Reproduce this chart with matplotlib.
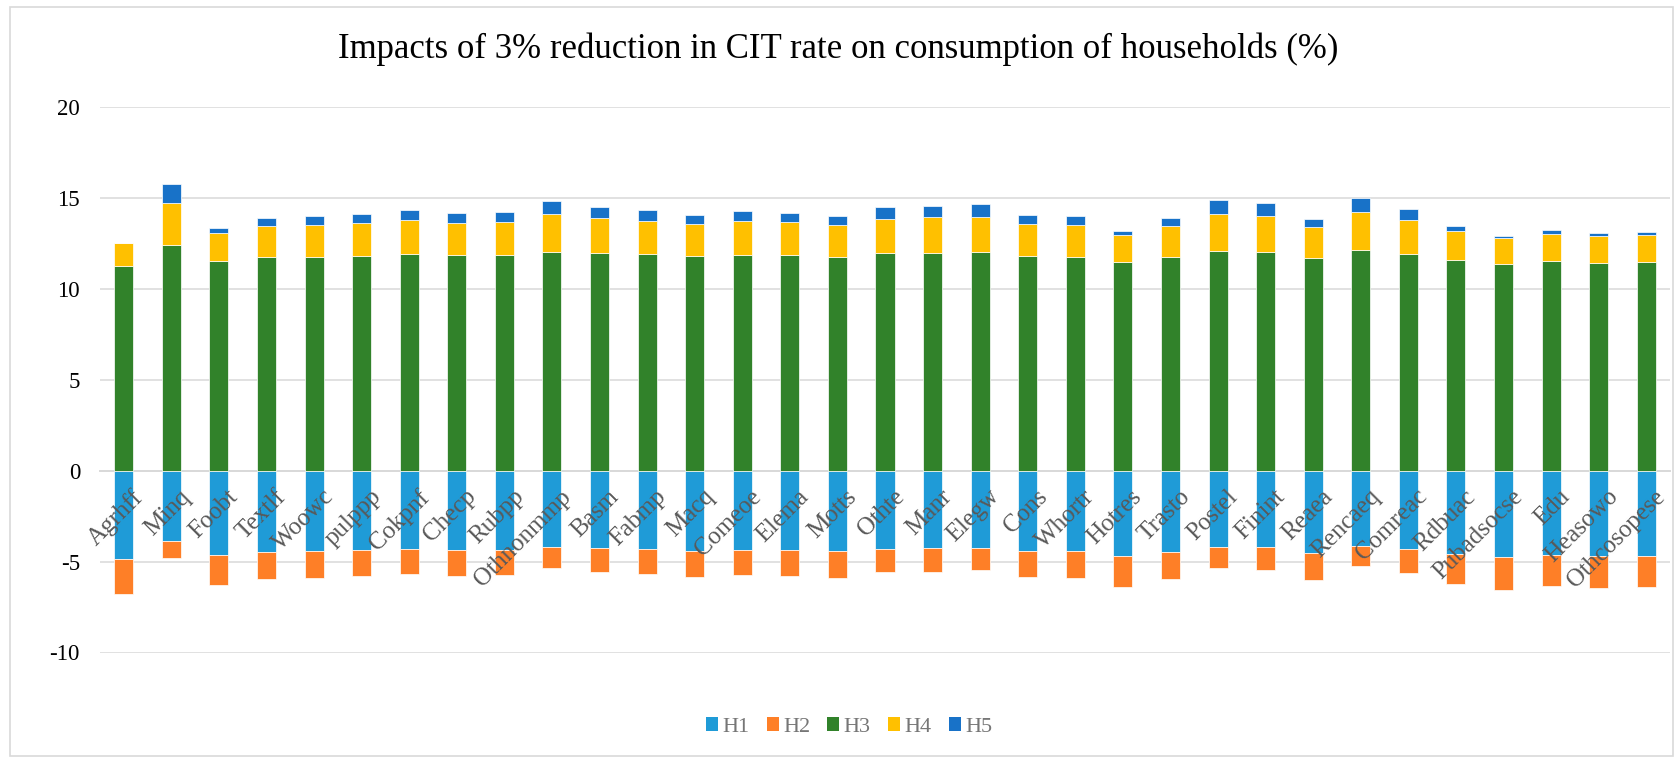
import matplotlib
matplotlib.use('Agg')
import matplotlib.pyplot as plt
import numpy as np
from matplotlib.patches import Patch, Rectangle
from matplotlib.transforms import ScaledTranslation

plt.rcParams['font.family'] = ['Liberation Serif', 'DejaVu Serif']

# ---- data ----
categories = ["Agrhff", "Minq", "Foobt", "Textlf", "Woowc", "pulppp", "Cokpnf", "Checp",
              "Rubpp", "Othnonmmp", "Basm", "Fabmp", "Macq", "Comeoe", "Elema", "Motts",
              "Othte", "Manr", "Elegw", "Cons", "Whortr", "Hotres", "Trasto", "Postel",
              "Finint", "Reaea", "Rencaeq", "Comreac", "Rdbuac", "Pubadsocse", "Edu",
              "Heasowo", "Othcosopese"]

H1 = [-4.85, -3.87, -4.63, -4.47, -4.41, -4.38, -4.30, -4.38, -4.34, -4.19, -4.27,
      -4.32, -4.41, -4.34, -4.38, -4.43, -4.30, -4.27, -4.25, -4.41, -4.43, -4.69,
      -4.49, -4.19, -4.21, -4.51, -4.14, -4.32, -4.60, -4.76, -4.65, -4.71, -4.69]
H2 = [-1.94, -0.91, -1.66, -1.48, -1.48, -1.44, -1.37, -1.40, -1.39, -1.19, -1.31,
      -1.39, -1.43, -1.41, -1.42, -1.48, -1.30, -1.29, -1.24, -1.45, -1.48, -1.72,
      -1.48, -1.16, -1.25, -1.48, -1.13, -1.32, -1.62, -1.81, -1.68, -1.73, -1.72]
H3 = [11.23, 12.38, 11.50, 11.72, 11.76, 11.80, 11.89, 11.83, 11.85, 12.03, 11.94,
      11.89, 11.78, 11.85, 11.83, 11.74, 11.94, 11.96, 12.00, 11.78, 11.76, 11.45,
      11.72, 12.07, 12.02, 11.69, 12.11, 11.89, 11.56, 11.36, 11.50, 11.43, 11.45]
H4 = [1.30, 2.34, 1.56, 1.74, 1.75, 1.79, 1.88, 1.79, 1.83, 2.05, 1.94,
      1.84, 1.79, 1.85, 1.81, 1.76, 1.90, 1.96, 1.95, 1.77, 1.74, 1.50,
      1.72, 2.05, 1.99, 1.71, 2.08, 1.88, 1.59, 1.40, 1.50, 1.46, 1.48]
H5 = [0.00, 1.04, 0.29, 0.44, 0.48, 0.53, 0.57, 0.53, 0.55, 0.71, 0.62,
      0.59, 0.49, 0.56, 0.53, 0.47, 0.62, 0.64, 0.68, 0.50, 0.49, 0.22,
      0.42, 0.75, 0.69, 0.44, 0.79, 0.62, 0.31, 0.11, 0.24, 0.19, 0.20]

series_names = ["H1", "H2", "H3", "H4", "H5"]
colors = ["#1f9bd7", "#fe7f27", "#31822a", "#ffc000", "#1872c8"]

title = "Impacts of 3% reduction in CIT rate on consumption of households (%)"
yticks = [-10, -5, 0, 5, 10, 15, 20]

# ---- figure ----
W, H = 1677, 759
fig = plt.figure(figsize=(W / 100, H / 100), dpi=100)
ax = fig.add_axes([100 / W, 1 - 652.5 / H, 1570 / W, (652.5 - 106.7) / H])

x = np.arange(len(categories))
bw = 0.4
ekw = dict(edgecolor='white', linewidth=0.5, zorder=3)
ax.bar(x, H1, bw, color=colors[0], **ekw)
ax.bar(x, H2, bw, bottom=H1, color=colors[1], **ekw)
ax.bar(x, H3, bw, color=colors[2], **ekw)
ax.bar(x, H4, bw, bottom=H3, color=colors[3], **ekw)
ax.bar(x, H5, bw, bottom=np.add(H3, H4), color=colors[4], **ekw)

ax.set_xlim(-0.5, len(categories) - 0.5)
ax.set_ylim(-10, 20)
ax.set_yticks(yticks)
ax.set_yticklabels([str(v) for v in yticks])
ax.yaxis.grid(True, color='#d9d9d9', linewidth=1.1)
ax.set_axisbelow(True)
for s in ['top', 'right', 'left']:
    ax.spines[s].set_visible(False)
ax.spines['bottom'].set_position(('data', 0))
ax.spines['bottom'].set_color('#d9d9d9')
ax.spines['bottom'].set_linewidth(1.4)
ax.spines['bottom'].set_zorder(2)
ax.set_xticks([])
ax.tick_params(axis='y', length=0, pad=14.4, labelsize=16.5, labelcolor='#000000')

off = ScaledTranslation(8 / 100, -15 / 100, fig.dpi_scale_trans)
for i, c in enumerate(categories):
    ax.text(i, 0, c, rotation=45, ha='right', va='top', rotation_mode='anchor',
            fontsize=18, color='#595959', transform=ax.transData + off, zorder=5)

fig.text(0.5, 1 - 49 / H, title, ha='center', va='center', fontsize=25, color='#000000')

handles = [Patch(facecolor=c, edgecolor='none') for c in colors]
fig.legend(handles, series_names, loc='center', bbox_to_anchor=(849 / W, 1 - 727 / H),
           ncol=5, frameon=False, fontsize=16, handlelength=0.54, handleheight=0.54,
           handletextpad=0.2, columnspacing=0.77, labelcolor='#767676')

fig.add_artist(Rectangle((9.5 / W, 1 - 756 / H), (1673 - 9.5) / W, (756 - 7.3) / H,
                         transform=fig.transFigure, fill=False, edgecolor='#d9d9d9',
                         linewidth=1.2))

fig.savefig('out.png', dpi=100)
